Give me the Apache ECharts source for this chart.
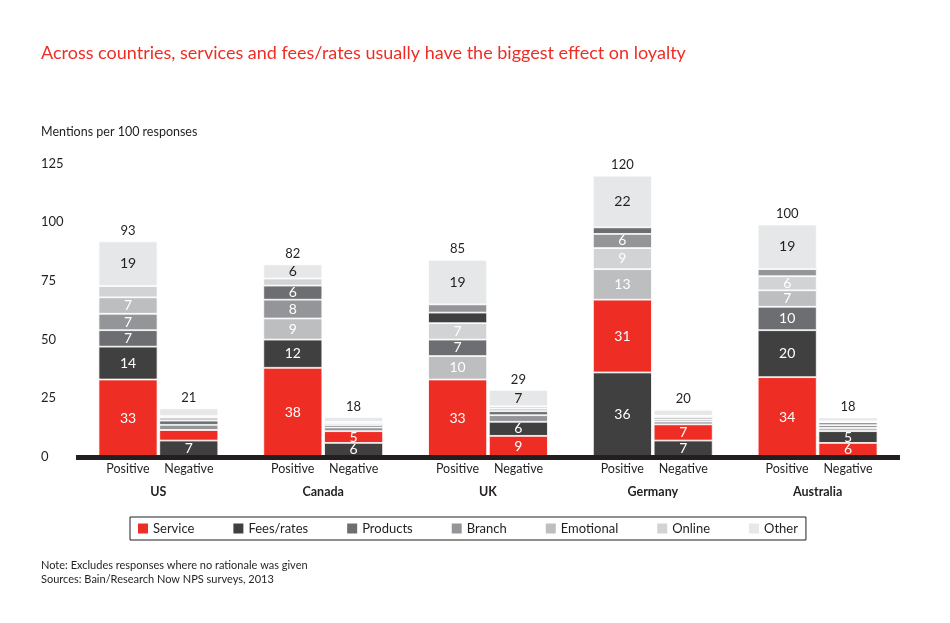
<!DOCTYPE html>
<html>
<head>
<meta charset="utf-8">
<script src="https://cdn.jsdelivr.net/npm/echarts@6/dist/echarts.min.js"></script>
<style>
  html, body { margin: 0; padding: 0; background: #fff; }
  #chart { width: 950px; height: 623px; }
</style>
</head>
<body>
<div id="chart"></div>
<script>
        var countries = ['US', 'Canada', 'UK', 'Germany', 'Australia'];
        var drivers = ['Service', 'Fees/rates', 'Products', 'Branch', 'Emotional', 'Online', 'Other'];
        var yTicks = [0, 25, 50, 75, 100, 125];

        // positive mentions per 100 responses, one value per country
        var posService = [33, 38, 33, 31, 34];
        var posFees = [14, 12, 4.5, 36, 20];
        var posProducts = [7, 6, 7, 2.8, 10];
        var posBranch = [7, 8, 3.5, 6, 3];
        var posEmotional = [7, 9, 10, 13, 7];
        var posOnline = [4.8, 3, 7, 9, 6];
        var posOther = [19, 6, 19, 22, 19];
        var posTotals = [93, 82, 85, 120, 100];

        // negative mentions
        var negService = [4.5, 5, 9, 6.9, 6];
        var negFees = [7, 6, 6, 7, 5];
        var negProducts = [1.8, 1, 1.7, 0.9, 1.1];
        var negBranch = [2.2, 1.6, 2.8, 1.2, 1.2];
        var negEmotional = [1.3, 0.8, 1.1, 1, 1.4];
        var negOnline = [0.6, 0.6, 1, 0.5, 0.5];
        var negOther = [3.3, 2, 7, 2.6, 1.6];
        var negTotals = [21, 18, 29, 20, 18];

        var colors = ['#ee2e24', '#404041', '#6d6e71', '#939598', '#bcbec0', '#d1d3d4', '#e6e7e8'];
        var dark = '#231f20';
        var font = 'Lato';

        var posValues = [posService, posFees, posProducts, posBranch, posEmotional, posOnline, posOther];
        var negValues = [negService, negFees, negProducts, negBranch, negEmotional, negOnline, negOther];

        var myChart = echarts.init(document.getElementById('chart'));

        // each bar stacks its drivers largest first, with Other always on top
        function slotSeries(values, stack) {
            var orders = countries.map(function (c, i) {
                var idx = [0, 1, 2, 3, 4, 5];
                idx.sort(function (a, b) { return values[b][i] - values[a][i]; });
                idx.push(6);
                return idx;
            });
            var list = [];
            for (var s = 0; s < drivers.length; s++) {
                list.push({
                    type: 'bar',
                    stack: stack,
                    barWidth: 59,
                    barGap: '3%',
                    data: countries.map(function (c, i) {
                        var d = orders[i][s];
                        var v = values[d][i];
                        return {
                            value: v,
                            itemStyle: { color: colors[d] },
                            label: { show: v >= 5, color: d === 6 ? dark : '#fff' }
                        };
                    }),
                    itemStyle: { borderColor: '#fff', borderWidth: 0.8 },
                    label: {
                        position: 'inside',
                        fontFamily: font,
                        fontSize: 14,
                        formatter: function (p) { return Math.round(p.value); }
                    },
                    emphasis: { disabled: true }
                });
            }
            return list;
        }

        function totalSeries(totals, stack) {
            return {
                type: 'bar',
                stack: stack,
                barWidth: 59,
                barGap: '3%',
                data: countries.map(function () { return 0; }),
                label: {
                    show: true,
                    position: 'top',
                    distance: 4,
                    color: dark,
                    fontFamily: font,
                    fontSize: 13,
                    formatter: function (p) { return totals[p.dataIndex]; }
                },
                emphasis: { disabled: true }
            };
        }

        var series = slotSeries(posValues, 'pos')
            .concat([totalSeries(posTotals, 'pos')])
            .concat(slotSeries(negValues, 'neg'))
            .concat([totalSeries(negTotals, 'neg')]);

        // legend entries only
        drivers.forEach(function (name, d) {
            series.push({ type: 'bar', stack: 'pos', name: name, data: [], itemStyle: { color: colors[d] } });
        });

        var option = {
            animation: false,
            title: [{
                text: 'Across countries, services and fees/rates usually have the biggest effect on loyalty',
                left: 41,
                top: 44,
                padding: 0,
                textStyle: { color: '#ee2e24', fontFamily: font, fontSize: 18, fontWeight: 'normal' }
            }, {
                text: 'Mentions per 100 responses',
                left: 41,
                top: 125,
                padding: 0,
                textStyle: { color: dark, fontFamily: font, fontSize: 12.5, fontWeight: 'normal' }
            }, {
                text: 'Note: Excludes responses where no rationale was given\nSources: Bain/Research Now NPS surveys, 2013',
                left: 41,
                top: 558,
                padding: 0,
                textStyle: { color: dark, fontFamily: font, fontSize: 11, fontWeight: 'normal', lineHeight: 14 }
            }],
            legend: {
                data: drivers,
                selectedMode: false,
                left: 130,
                top: 517,
                icon: 'rect',
                itemWidth: 10,
                itemHeight: 10,
                itemGap: 39,
                padding: [5, 8, 5, 8],
                borderColor: dark,
                borderWidth: 1,
                textStyle: { color: dark, fontFamily: font, fontSize: 13 }
            },
            grid: { left: 76, right: 50, top: 163.5, bottom: 166 },
            xAxis: {
                type: 'category',
                data: countries,
                z: 5,
                axisLine: { lineStyle: { color: dark, width: 5, cap: 'butt' } },
                axisTick: { show: false },
                axisLabel: {
                    margin: 4,
                    interval: 0,
                    formatter: function (v) { return '{p|Positive}{p|Negative}\n{c|' + v + '}'; },
                    rich: {
                        p: { width: 61, align: 'center', fontFamily: font, fontSize: 12.5, color: dark, lineHeight: 16 },
                        c: { fontFamily: font, fontSize: 12.5, fontWeight: 'bold', color: dark, lineHeight: 30 }
                    }
                }
            },
            yAxis: {
                type: 'value',
                min: yTicks[0],
                max: yTicks[yTicks.length - 1],
                interval: 25,
                axisLine: { show: false },
                axisTick: { show: false },
                splitLine: { show: false },
                axisLabel: { align: 'left', margin: 35, color: dark, fontFamily: font, fontSize: 13 }
            },
            series: series
        };
        myChart.setOption(option);
</script>
</body>
</html>
